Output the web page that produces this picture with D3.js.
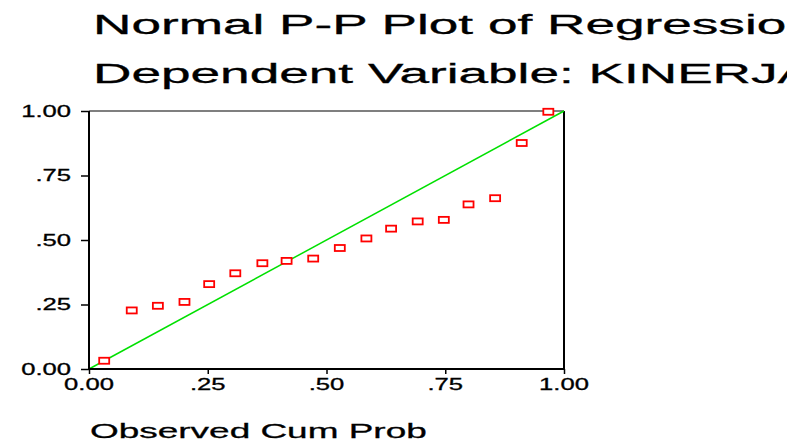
<!DOCTYPE html>
<html>
<head>
<meta charset="utf-8">
<script src="https://cdn.jsdelivr.net/npm/d3@7"></script>
<style>
  body { margin: 0; background: #fff; }
  text { font-family: "Liberation Sans", Arial, sans-serif; fill: #000; }
</style>
</head>
<body>
<div id="vis"></div>
<script>
// observed vs expected cumulative probabilities
var observed = [0.032, 0.090, 0.145, 0.201, 0.253, 0.308, 0.365, 0.416, 0.472, 0.528, 0.584, 0.636, 0.692, 0.747, 0.799, 0.855, 0.911, 0.967];
var expected = [0.032, 0.227, 0.245, 0.260, 0.329, 0.371, 0.410, 0.419, 0.428, 0.469, 0.506, 0.544, 0.572, 0.578, 0.638, 0.662, 0.876, 0.997];
var tick_values = [0, 0.25, 0.5, 0.75, 1];
var tick_labels = ["0.00", ".25", ".50", ".75", "1.00"];
var title_lines = ["Normal P-P Plot of Regression Standardized Residual", "Dependent Variable: KINERJA"];
var x_title = "Observed Cum Prob";

var width = 787, height = 441;
var plot_left = 89, plot_right = 564, plot_top = 111, plot_bottom = 369;

var svg = d3.select("#vis").append("svg")
    .attr("width", width)
    .attr("height", height);

var x = d3.scaleLinear().domain([0, 1]).range([plot_left, plot_right]);
var y = d3.scaleLinear().domain([0, 1]).range([plot_bottom, plot_top]);

// titles (the original font is wide, so stretch horizontally)
svg.append("text")
    .attr("transform", "translate(93,33.5) scale(1.97,1)")
    .attr("font-size", 27)
    .attr("stroke", "#000").attr("stroke-width", 0.3)
    .text(title_lines[0]);
svg.append("text")
    .attr("transform", "translate(93,83) scale(1.97,1)")
    .attr("font-size", 27)
    .attr("stroke", "#000").attr("stroke-width", 0.3)
    .text(title_lines[1]);

// frame: top thin grey, right black
svg.append("line")
    .attr("x1", plot_left).attr("x2", plot_right).attr("y1", plot_top).attr("y2", plot_top)
    .attr("stroke", "#555").attr("stroke-width", 1.5);
svg.append("line")
    .attr("x1", plot_right).attr("x2", plot_right).attr("y1", plot_top).attr("y2", plot_bottom)
    .attr("stroke", "#000").attr("stroke-width", 2);

// diagonal reference line
svg.append("line")
    .attr("x1", x(0)).attr("y1", y(0))
    .attr("x2", x(1)).attr("y2", y(1))
    .attr("stroke", "#00e000").attr("stroke-width", 1.5);

// axes
var xAxis = d3.axisBottom(x).tickValues(tick_values).tickSize(5).tickFormat("");
var yAxis = d3.axisLeft(y).tickValues(tick_values).tickSize(8).tickFormat("");

var gx = svg.append("g").attr("transform", "translate(0," + plot_bottom + ")").call(xAxis);
var gy = svg.append("g").attr("transform", "translate(" + plot_left + ",0)").call(yAxis);
[gx, gy].forEach(function(g){
    g.select(".domain").attr("stroke", "#000").attr("stroke-width", 2);
    g.selectAll(".tick line").attr("stroke", "#000").attr("stroke-width", 1.5);
});
gx.select(".domain").attr("d", "M" + (plot_left - 1) + ",0H" + (plot_right + 1));
gy.select(".domain").attr("d", "M0," + (plot_bottom + 1) + "V" + plot_top);

tick_values.forEach(function(v, i){
    svg.append("text")
        .attr("transform", "translate(" + x(v) + ",390) scale(1.6,1)")
        .attr("text-anchor", "middle")
        .attr("font-size", 16)
        .attr("stroke", "#000").attr("stroke-width", 0.3)
        .text(tick_labels[i]);
    svg.append("text")
        .attr("transform", "translate(71," + (y(v) + 5.5) + ") scale(1.6,1)")
        .attr("text-anchor", "end")
        .attr("font-size", 16)
        .attr("stroke", "#000").attr("stroke-width", 0.3)
        .text(tick_labels[i]);
});

// x axis title
svg.append("text")
    .attr("transform", "translate(90,438) scale(1.76,1)")
    .attr("font-size", 21)
    .attr("stroke", "#000").attr("stroke-width", 0.3)
    .text(x_title);

// points
svg.selectAll("rect.pt")
    .data(observed)
    .enter()
    .append("rect")
    .attr("class", "pt")
    .attr("x", function(d) { return x(d) - 5; })
    .attr("y", function(d, i) { return y(expected[i]) - 3; })
    .attr("width", 10)
    .attr("height", 6)
    .attr("fill", "#fff")
    .attr("stroke", "#ff0000")
    .attr("stroke-width", 1.8);
</script>
</body>
</html>
